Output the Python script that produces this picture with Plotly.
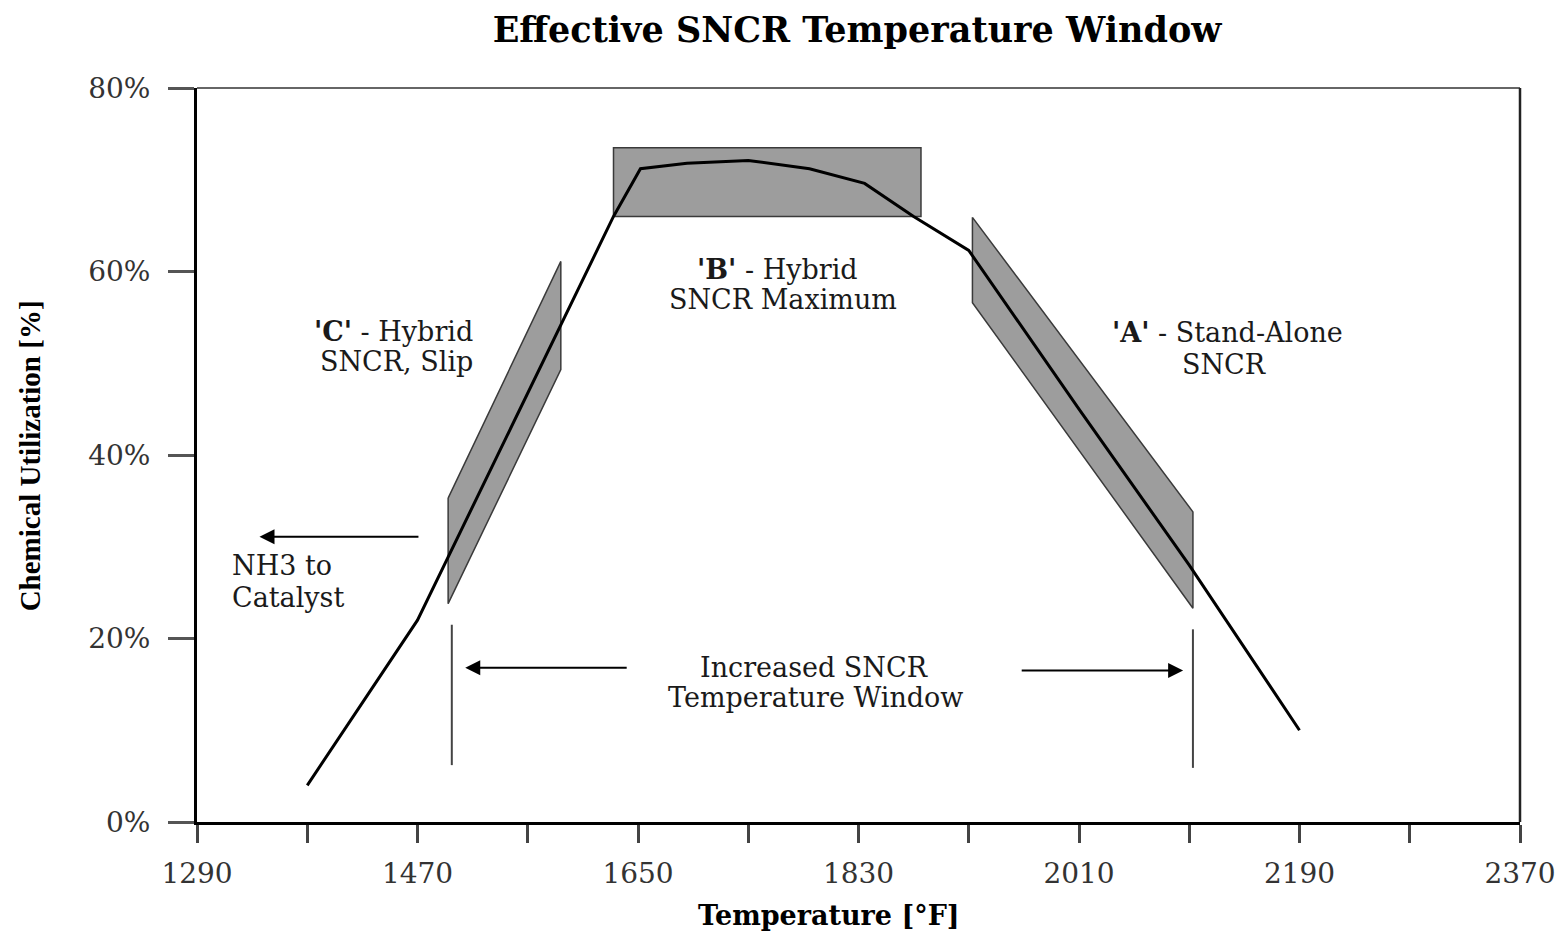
import plotly.graph_objects as go

# ---------------- data ----------------
curve_temp = [1380, 1470, 1630, 1652, 1690, 1740, 1790, 1835, 1875, 1920, 2010, 2100, 2190]
curve_util = [4.0, 22.0, 66.0, 71.2, 71.8, 72.1, 71.2, 69.6, 66.0, 62.3, 45.0, 28.0, 10.0]

band_b_temp = [1630, 1881, 1881, 1630]
band_b_util = [66.0, 66.0, 73.5, 73.5]

band_c_temp = [1495, 1587, 1587, 1495]
band_c_util = [35.3, 61.1, 49.3, 23.8]

band_a_temp = [1923, 2103, 2103, 1923]
band_a_util = [65.9, 33.8, 23.3, 56.6]

edge_left_temp = [1498, 1498]
edge_left_util = [21.5, 6.2]
edge_right_temp = [2103, 2103]
edge_right_util = [21.0, 5.9]

# arrows: (tail_temp, tail_util, head_temp, head_util)
arrow_nh3 = (1472, 31.1, 1341, 31.1)
arrow_win_left = (1642, 16.8, 1509, 16.8)
arrow_win_right = (1962, 16.5, 2095, 16.5)

x_tick_vals = [1290, 1380, 1470, 1560, 1650, 1740, 1830, 1920, 2010, 2100, 2190, 2280, 2370]
x_tick_text = ["1290", "", "1470", "", "1650", "", "1830", "", "2010", "", "2190", "", "2370"]
y_tick_vals = [0, 20, 40, 60, 80]
y_tick_text = ["0%", "20%", "40%", "60%", "80%"]

title_text = "Effective SNCR Temperature Window"
x_title = "Temperature [°F]"
y_title = "Chemical Utilization [%]"

# ---------------- figure ----------------
SERIF = "DejaVu Serif"
band_fill = "rgba(140,140,140,0.85)"

fig = go.Figure()

for tx, uy in [(band_b_temp, band_b_util), (band_c_temp, band_c_util), (band_a_temp, band_a_util)]:
    fig.add_trace(go.Scatter(
        x=tx + [tx[0]], y=uy + [uy[0]], mode="lines", fill="toself",
        fillcolor=band_fill, line=dict(color="#3a3a3a", width=1.5),
        hoverinfo="skip", showlegend=False))

for tx, uy in [(edge_left_temp, edge_left_util), (edge_right_temp, edge_right_util)]:
    fig.add_trace(go.Scatter(x=tx, y=uy, mode="lines",
                             line=dict(color="#444", width=2),
                             hoverinfo="skip", showlegend=False))

fig.add_trace(go.Scatter(x=curve_temp, y=curve_util, mode="lines",
                         line=dict(color="black", width=3),
                         showlegend=False))

# arrows
for (tx, ty, hx, hy) in [arrow_nh3, arrow_win_left, arrow_win_right]:
    fig.add_annotation(x=hx, y=hy, ax=tx, ay=ty, xref="x", yref="y",
                       axref="x", ayref="y", text="", showarrow=True,
                       arrowhead=2, arrowsize=1.5, arrowwidth=2,
                       arrowcolor="black")

def label(text, x, y, xanchor="center", size=27):
    fig.add_annotation(x=x, y=y, xref="x", yref="y", text=text,
                       showarrow=False, xanchor=xanchor, yanchor="middle",
                       font=dict(family=SERIF, size=size, color="#1a1a1a"))

label("<b>'B'</b> - Hybrid", 1764, 60.2)
label("SNCR Maximum", 1768, 57.0)
label("<b>'C'</b> - Hybrid", 1450, 53.5)
label("SNCR, Slip", 1453, 50.2)
label("<b>'A'</b> - Stand-Alone", 2131, 53.3)
label("SNCR", 2128, 49.9)
label("NH3 to", 1317, 28.0, xanchor="left")
label("Catalyst", 1317, 24.5, xanchor="left")
label("Increased SNCR", 1794, 16.8)
label("Temperature Window", 1795, 13.6)

# axis titles
fig.add_annotation(x=0.4777, y=-0.128, xref="paper", yref="paper",
                   text="<b>" + x_title + "</b>", showarrow=False,
                   xanchor="center", yanchor="middle",
                   font=dict(family=SERIF, size=27, color="black"))
fig.add_annotation(x=-0.126, y=0.4986, xref="paper", yref="paper",
                   text="<b>" + y_title + "</b>", showarrow=False,
                   textangle=-90, xanchor="center", yanchor="middle",
                   font=dict(family="Liberation Serif", size=29, color="black"))

# top and right frame lines
fig.add_shape(type="line", xref="paper", yref="paper", x0=0, x1=1, y0=1, y1=1,
              line=dict(color="#666", width=2))
fig.add_shape(type="line", xref="paper", yref="paper", x0=1, x1=1, y0=0, y1=1,
              line=dict(color="#222", width=2.5))

fig.update_layout(
    width=1560, height=929,
    margin=dict(l=189, r=46, t=80, b=115),
    paper_bgcolor="white", plot_bgcolor="white",
    title=dict(text="<b>" + title_text + "</b>", xref="container", yref="container",
               x=849 / 1560, y=1 - 22 / 929, xanchor="center", yanchor="middle",
               font=dict(family=SERIF, size=35, color="black")),
    xaxis=dict(range=[1290, 2370], showgrid=False, zeroline=False,
               showline=True, linecolor="black", linewidth=3,
               ticks="outside", ticklen=18, tickwidth=2.5, tickcolor="#444",
               tickvals=x_tick_vals, ticktext=x_tick_text,
               ticklabelstandoff=6,
               tickfont=dict(family=SERIF, size=28, color="#333")),
    yaxis=dict(range=[0, 80], showgrid=False, zeroline=False,
               showline=True, linecolor="black", linewidth=3,
               ticks="outside", ticklen=26, tickwidth=2.5, tickcolor="#555",
               tickvals=y_tick_vals, ticktext=y_tick_text,
               ticklabelstandoff=12,
               tickfont=dict(family=SERIF, size=28, color="#333")),
)

fig.write_html("out.html")
